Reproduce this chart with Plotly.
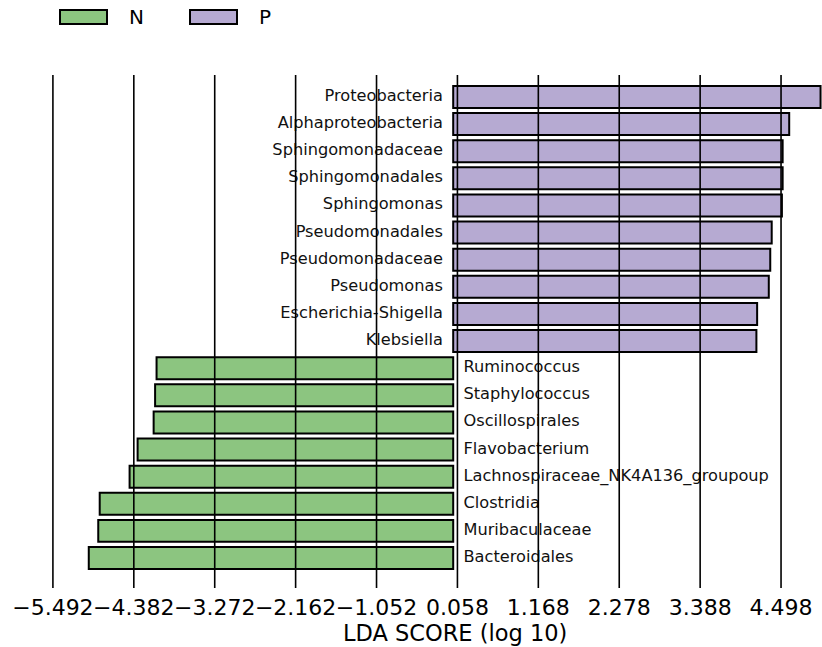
import plotly.graph_objects as go

# LDA effect sizes (log10) per taxon, listed bottom to top
taxa = [
    "Bacteroidales", "Muribaculaceae", "Clostridia", "Lachnospiraceae_NK4A136_groupoup",
    "Flavobacterium", "Oscillospirales", "Staphylococcus", "Ruminococcus",
    "Klebsiella", "Escherichia-Shigella", "Pseudomonas", "Pseudomonadaceae",
    "Pseudomonadales", "Sphingomonas", "Sphingomonadales", "Sphingomonadaceae",
    "Alphaproteobacteria", "Proteobacteria",
]
lda = [
    -5.00, -4.87, -4.85, -4.44,
    -4.33, -4.11, -4.09, -4.07,
    4.16, 4.17, 4.33, 4.35,
    4.37, 4.51, 4.52, 4.52,
    4.61, 5.04,
]
groups = ["N"] * 8 + ["P"] * 10
group_colors = {"N": "#8cc580", "P": "#b6aad2"}

tick_vals = [-5.492, -4.382, -3.272, -2.162, -1.052, 0.058, 1.168, 2.278, 3.388, 4.498]
tick_text = ["−5.492", "−4.382", "−3.272", "−2.162", "−1.052",
             "0.058", "1.168", "2.278", "3.388", "4.498"]

W, H = 822, 647
top, bottom = 75, 588
x_range = [-6.218, 5.06]
ypos = list(range(len(taxa)))

fig = go.Figure()

for g in ["N", "P"]:
    idx = [i for i, gg in enumerate(groups) if gg == g]
    fig.add_trace(go.Bar(
        x=[lda[i] for i in idx], y=[ypos[i] for i in idx],
        orientation="h", width=0.81,
        marker=dict(color=group_colors[g], line=dict(color="black", width=2)),
        name=g, showlegend=False,
    ))

# taxon labels beside the zero line: P labels to the left, N labels to the right
labfont = dict(family="DejaVu Sans", size=16.2, color="#111111")
fig.add_trace(go.Scatter(
    x=[0] * 10, y=[ypos[i] for i in range(8, 18)],
    text=[taxa[i] + "  " for i in range(8, 18)],
    mode="text", textposition="middle left", textfont=labfont,
    showlegend=False, hoverinfo="skip", cliponaxis=False,
))
fig.add_trace(go.Scatter(
    x=[0] * 8, y=[ypos[i] for i in range(0, 8)],
    text=["  " + taxa[i] for i in range(0, 8)],
    mode="text", textposition="middle right", textfont=labfont,
    showlegend=False, hoverinfo="skip", cliponaxis=False,
))

# vertical reference lines at each tick, drawn over bars and labels
for v in tick_vals:
    fig.add_shape(type="line", x0=v, x1=v, y0=0, y1=1, xref="x", yref="paper",
                  line=dict(color="black", width=1.6), layer="above")

# legend: wide swatches with group names
def px_x(p):
    return p / W

def px_y(p):
    return (bottom - p) / (bottom - top)

for g, x0, tx in [("N", 60, 127), ("P", 190, 257)]:
    fig.add_shape(type="rect", xref="paper", yref="paper",
                  x0=px_x(x0), x1=px_x(x0 + 47), y0=px_y(24), y1=px_y(10),
                  fillcolor=group_colors[g], line=dict(color="black", width=2))
    fig.add_annotation(text=g, xref="paper", yref="paper", x=px_x(tx), y=px_y(17),
                       xanchor="left", yanchor="middle", showarrow=False,
                       font=dict(family="DejaVu Sans", size=20, color="black"))

fig.add_annotation(text="LDA SCORE (log 10)", xref="x", yref="paper", x=0.03,
                   y=px_y(633), xanchor="center", yanchor="middle", showarrow=False,
                   font=dict(family="DejaVu Sans", size=22.5, color="black"))

fig.update_layout(
    width=W, height=H,
    margin=dict(l=0, r=0, t=top, b=H - bottom),
    plot_bgcolor="white", paper_bgcolor="white",
    barmode="overlay",
)
fig.update_xaxes(range=x_range, tickvals=tick_vals, ticktext=tick_text,
                 tickangle=0, automargin=False,
                 showgrid=False, zeroline=False, showline=False, ticks="",
                 ticklabelstandoff=4,
                 tickfont=dict(family="DejaVu Sans", size=22, color="black"))
fig.update_yaxes(range=[-1.106, 17.81], showticklabels=False, showgrid=False,
                 zeroline=False, showline=False, ticks="", automargin=False)

fig.write_html("out.html")
